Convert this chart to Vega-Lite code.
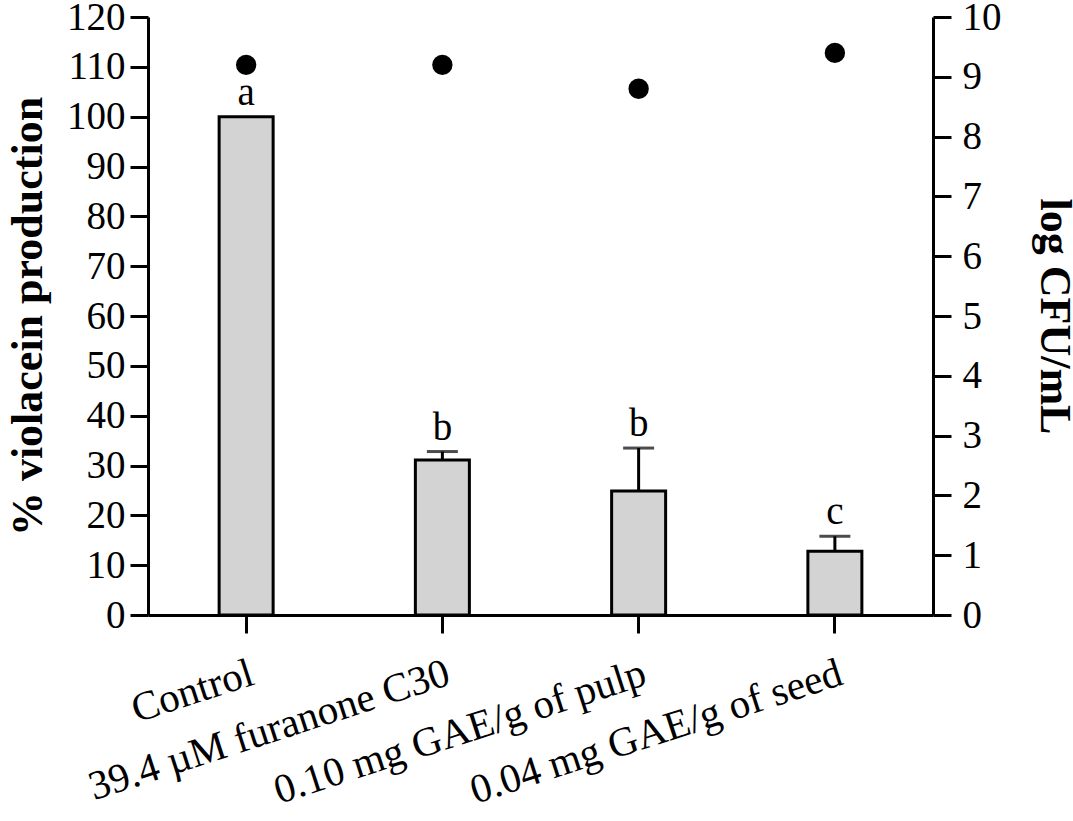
{
  "$schema": "https://vega.github.io/schema/vega-lite/v6.json",
  "width": 785,
  "height": 598,
  "autosize": "none",
  "padding": {"left": 148, "top": 17, "right": 140, "bottom": 206},
  "background": "white",
  "config": {
    "view": {"stroke": null},
    "font": "Liberation Serif",
    "axis": {
      "grid": false,
      "domainColor": "black",
      "domainWidth": 3,
      "tickColor": "black",
      "tickWidth": 3,
      "tickSize": 18,
      "labelFont": "Liberation Serif",
      "labelFontSize": 39,
      "labelColor": "black",
      "titleFont": "Liberation Serif",
      "titleFontSize": 44,
      "titleFontWeight": "bold",
      "titleColor": "black"
    }
  },
  "data": {
    "values": [
      {"group": "Control", "value": 100, "upper": 100, "cfu": 9.2, "letter": "a"},
      {"group": "39.4 µM furanone C30", "value": 31.1, "upper": 32.8, "cfu": 9.2, "letter": "b"},
      {"group": "0.10 mg GAE/g of pulp", "value": 24.9, "upper": 33.5, "cfu": 8.8, "letter": "b"},
      {"group": "0.04 mg GAE/g of seed", "value": 12.8, "upper": 15.8, "cfu": 9.4, "letter": "c"}
    ]
  },
  "encoding": {
    "x": {
      "field": "group",
      "type": "nominal",
      "sort": null,
      "scale": {"paddingInner": 0, "paddingOuter": 0},
      "axis": {
        "title": null,
        "labelAngle": -18,
        "labelAlign": "right",
        "labelBaseline": "top",
        "labelPadding": 20,
        "labelFontSize": 41,
        "labelLimit": 1000,
        "labelOverlap": false
      }
    }
  },
  "layer": [
    {
      "layer": [
        {
          "mark": {"type": "bar", "size": 54, "fill": "#d3d3d3", "stroke": "black", "strokeWidth": 3},
          "encoding": {
            "y": {
              "field": "value",
              "type": "quantitative",
              "title": "% violacein production",
              "scale": {"domain": [0, 120], "nice": false},
              "axis": {"values": [0, 10, 20, 30, 40, 50, 60, 70, 80, 90, 100, 110, 120], "labelPadding": 5, "titlePadding": 16}
            }
          }
        },
        {
          "transform": [{"filter": "datum.upper > datum.value"}],
          "mark": {"type": "rule", "color": "black", "strokeWidth": 3},
          "encoding": {
            "y": {"field": "value", "type": "quantitative", "title": "% violacein production"},
            "y2": {"field": "upper"}
          }
        },
        {
          "transform": [{"filter": "datum.upper > datum.value"}],
          "mark": {"type": "tick", "color": "black", "size": 31, "thickness": 3, "orient": "horizontal"},
          "encoding": {
            "y": {"field": "upper", "type": "quantitative", "title": "% violacein production"}
          }
        },
        {
          "mark": {"type": "text", "baseline": "alphabetic", "dy": -12, "fontSize": 39, "color": "black", "font": "Liberation Serif"},
          "encoding": {
            "y": {"field": "upper", "type": "quantitative", "title": "% violacein production"},
            "text": {"field": "letter"}
          }
        }
      ]
    },
    {
      "mark": {"type": "point", "filled": true, "color": "black", "size": 415, "opacity": 1},
      "encoding": {
        "y": {
          "field": "cfu",
          "type": "quantitative",
          "title": "log CFU/mL",
          "scale": {"domain": [0, 10], "nice": false},
          "axis": {"orient": "right", "values": [0, 1, 2, 3, 4, 5, 6, 7, 8, 9, 10], "labelPadding": 11, "titlePadding": 30}
        }
      }
    }
  ],
  "resolve": {"scale": {"y": "independent"}}
}
